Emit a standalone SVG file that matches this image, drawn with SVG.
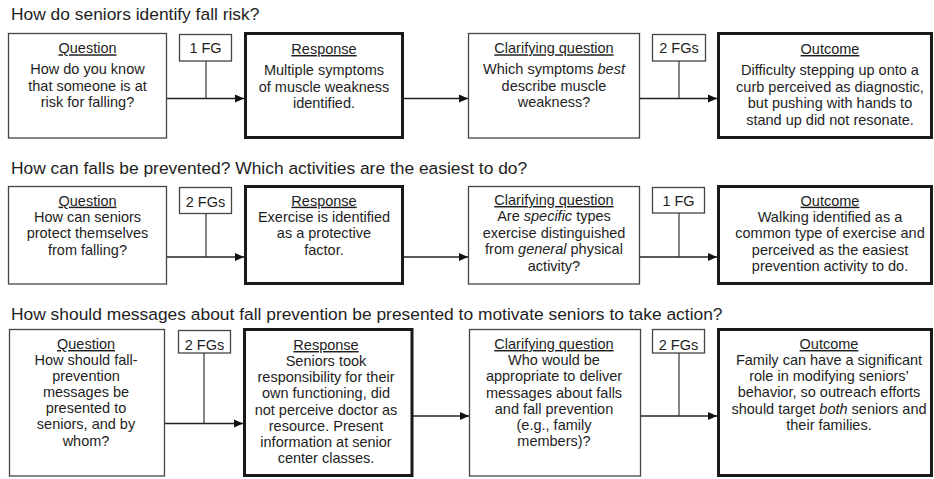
<svg xmlns="http://www.w3.org/2000/svg" width="934" height="479" viewBox="0 0 934 479">
<style>
text{font-family:"Liberation Sans",Arial,sans-serif;fill:#1e1e1e}
.t{font-size:17.4px}
.b{font-size:14.5px;text-anchor:middle}
.h{text-decoration:underline}
.i{font-style:italic}
.thin{fill:#fff;stroke:#444;stroke-width:1.3}
.thick{fill:#fff;stroke:#1a1a1a;stroke-width:3}
.fg{fill:#fff;stroke:#444;stroke-width:1.3}
.c{fill:none;stroke:#222;stroke-width:1.5}
.v{fill:none;stroke:#333;stroke-width:1.2}
</style>
<defs>
<marker id="ah" markerUnits="userSpaceOnUse" markerWidth="10" markerHeight="10" refX="9" refY="5" orient="auto">
<path d="M0,1 L9,5 L0,9 Z" fill="#111"/>
</marker>
</defs>
<rect width="934" height="479" fill="#fff"/>

<text class="t" x="11" y="19.5">How do seniors identify fall risk?</text>
<text class="t" x="11" y="174">How can falls be prevented? Which activities are the easiest to do?</text>
<text class="t" x="11" y="320">How should messages about fall prevention be presented to motivate seniors to take action?</text>

<g id="connectors">
<path class="c" d="M167,98.5 H244" marker-end="url(#ah)"/>
<path class="v" d="M206,61 V98.5"/>
<path class="c" d="M404,98.5 H468" marker-end="url(#ah)"/>
<path class="c" d="M640,98.5 H717" marker-end="url(#ah)"/>
<path class="v" d="M679,61 V98.5"/>

<path class="c" d="M167,257 H244" marker-end="url(#ah)"/>
<path class="v" d="M206,213.5 V257"/>
<path class="c" d="M404,257 H468" marker-end="url(#ah)"/>
<path class="c" d="M640,257 H717" marker-end="url(#ah)"/>
<path class="v" d="M679,213 V257"/>

<path class="c" d="M164,423.5 H243" marker-end="url(#ah)"/>
<path class="v" d="M204,353 V423.5"/>
<path class="c" d="M413,416 H469" marker-end="url(#ah)"/>
<path class="c" d="M641,416 H717" marker-end="url(#ah)"/>
<path class="v" d="M679,353 V416"/>
</g>

<g id="r1-question">
<rect class="thin" x="8.5" y="33.5" width="158" height="104.5"/>
<text class="b h" x="87.5" y="53.3">Question</text>
<text class="b" x="87.5" y="74">How do you know</text>
<text class="b" x="87.5" y="90.7">that someone is at</text>
<text class="b" x="87.5" y="107">risk for falling?</text>
</g>
<g id="r1-fg1">
<rect class="fg" x="179.5" y="34.5" width="52" height="26.5"/>
<text class="b" x="205.5" y="53.3">1 FG</text>
</g>
<g id="r1-response">
<rect class="thick" x="245.5" y="33.5" width="157" height="104"/>
<text class="b h" x="324" y="54">Response</text>
<text class="b" x="324" y="75">Multiple symptoms</text>
<text class="b" x="324" y="91.7">of muscle weakness</text>
<text class="b" x="324" y="107.5">identified.</text>
</g>
<g id="r1-clarifying">
<rect class="thin" x="468.5" y="33.5" width="171" height="104.5"/>
<text class="b h" x="554" y="53.3">Clarifying question</text>
<text class="b" x="554" y="74">Which symptoms <tspan class="i">best</tspan></text>
<text class="b" x="554" y="90.7">describe muscle</text>
<text class="b" x="554" y="107">weakness?</text>
</g>
<g id="r1-fg2">
<rect class="fg" x="652.5" y="34.5" width="53" height="26.5"/>
<text class="b" x="679" y="53.3">2 FGs</text>
</g>
<g id="r1-outcome">
<rect class="thick" x="718.5" y="33.5" width="213" height="104"/>
<text class="b h" x="830" y="54">Outcome</text>
<text class="b" x="830" y="75">Difficulty stepping up onto a</text>
<text class="b" x="830" y="91.7">curb perceived as diagnostic,</text>
<text class="b" x="830" y="108.3">but pushing with hands to</text>
<text class="b" x="830" y="124.5">stand up did not resonate.</text>
</g>

<g id="r2-question">
<rect class="thin" x="8.5" y="186.5" width="158" height="97.5"/>
<text class="b h" x="87.5" y="205.7">Question</text>
<text class="b" x="87.5" y="221.7">How can seniors</text>
<text class="b" x="87.5" y="238">protect themselves</text>
<text class="b" x="87.5" y="254.5">from falling?</text>
</g>
<g id="r2-fg1">
<rect class="fg" x="179.5" y="187.5" width="52" height="26"/>
<text class="b" x="205.5" y="206.5">2 FGs</text>
</g>
<g id="r2-response">
<rect class="thick" x="245.5" y="186.5" width="157" height="97"/>
<text class="b h" x="324" y="205.7">Response</text>
<text class="b" x="324" y="221.7">Exercise is identified</text>
<text class="b" x="324" y="238">as a protective</text>
<text class="b" x="324" y="254.5">factor.</text>
</g>
<g id="r2-clarifying">
<rect class="thin" x="468.5" y="186.5" width="171" height="97.5"/>
<text class="b h" x="554" y="205">Clarifying question</text>
<text class="b" x="554" y="221.3">Are <tspan class="i">specific</tspan> types</text>
<text class="b" x="554" y="237.7">exercise distinguished</text>
<text class="b" x="554" y="254.2">from <tspan class="i">general</tspan> physical</text>
<text class="b" x="554" y="270.7">activity?</text>
</g>
<g id="r2-fg2">
<rect class="fg" x="652.5" y="187.5" width="52" height="25.5"/>
<text class="b" x="678.5" y="206">1 FG</text>
</g>
<g id="r2-outcome">
<rect class="thick" x="718.5" y="186.5" width="213" height="97"/>
<text class="b h" x="830" y="205.7">Outcome</text>
<text class="b" x="830" y="221.7">Walking identified as a</text>
<text class="b" x="830" y="238">common type of exercise and</text>
<text class="b" x="830" y="254.5">perceived as the easiest</text>
<text class="b" x="830" y="271">prevention activity to do.</text>
</g>

<g id="r3-question">
<rect class="thin" x="9.5" y="329.5" width="155" height="146.5"/>
<text class="b h" x="86" y="349">Question</text>
<text class="b" x="86" y="365">How should fall-</text>
<text class="b" x="86" y="381">prevention</text>
<text class="b" x="86" y="397">messages be</text>
<text class="b" x="86" y="413">presented to</text>
<text class="b" x="86" y="429.3">seniors, and by</text>
<text class="b" x="86" y="445.5">whom?</text>
</g>
<g id="r3-fg1">
<rect class="fg" x="178.5" y="330.5" width="52" height="22.5"/>
<text class="b" x="204.5" y="350">2 FGs</text>
</g>
<g id="r3-response">
<rect class="thick" x="244.5" y="329.5" width="167.5" height="146"/>
<text class="b h" x="326" y="350">Response</text>
<text class="b" x="326" y="366">Seniors took</text>
<text class="b" x="326" y="382.2">responsibility for their</text>
<text class="b" x="326" y="398.4">own functioning, did</text>
<text class="b" x="326" y="414.6">not perceive doctor as</text>
<text class="b" x="326" y="430.8">resource. Present</text>
<text class="b" x="326" y="447">information at senior</text>
<text class="b" x="326" y="463.2">center classes.</text>
</g>
<g id="r3-clarifying">
<rect class="thin" x="469.5" y="329.5" width="171" height="146.5"/>
<text class="b h" x="554" y="349">Clarifying question</text>
<text class="b" x="554" y="365">Who would be</text>
<text class="b" x="554" y="381.3">appropriate to deliver</text>
<text class="b" x="554" y="397.6">messages about falls</text>
<text class="b" x="554" y="413.8">and fall prevention</text>
<text class="b" x="554" y="430">(e.g., family</text>
<text class="b" x="554" y="446.3">members)?</text>
</g>
<g id="r3-fg2">
<rect class="fg" x="652.5" y="329.5" width="52" height="23.5"/>
<text class="b" x="678.5" y="350">2 FGs</text>
</g>
<g id="r3-outcome">
<rect class="thick" x="718.5" y="329.5" width="213" height="146"/>
<text class="b h" x="829" y="349">Outcome</text>
<text class="b" x="829" y="365">Family can have a significant</text>
<text class="b" x="829" y="381.2">role in modifying seniors’</text>
<text class="b" x="829" y="397.4">behavior, so outreach efforts</text>
<text class="b" x="829" y="413.6">should target <tspan class="i">both</tspan> seniors and</text>
<text class="b" x="829" y="430">their families.</text>
</g>
</svg>
